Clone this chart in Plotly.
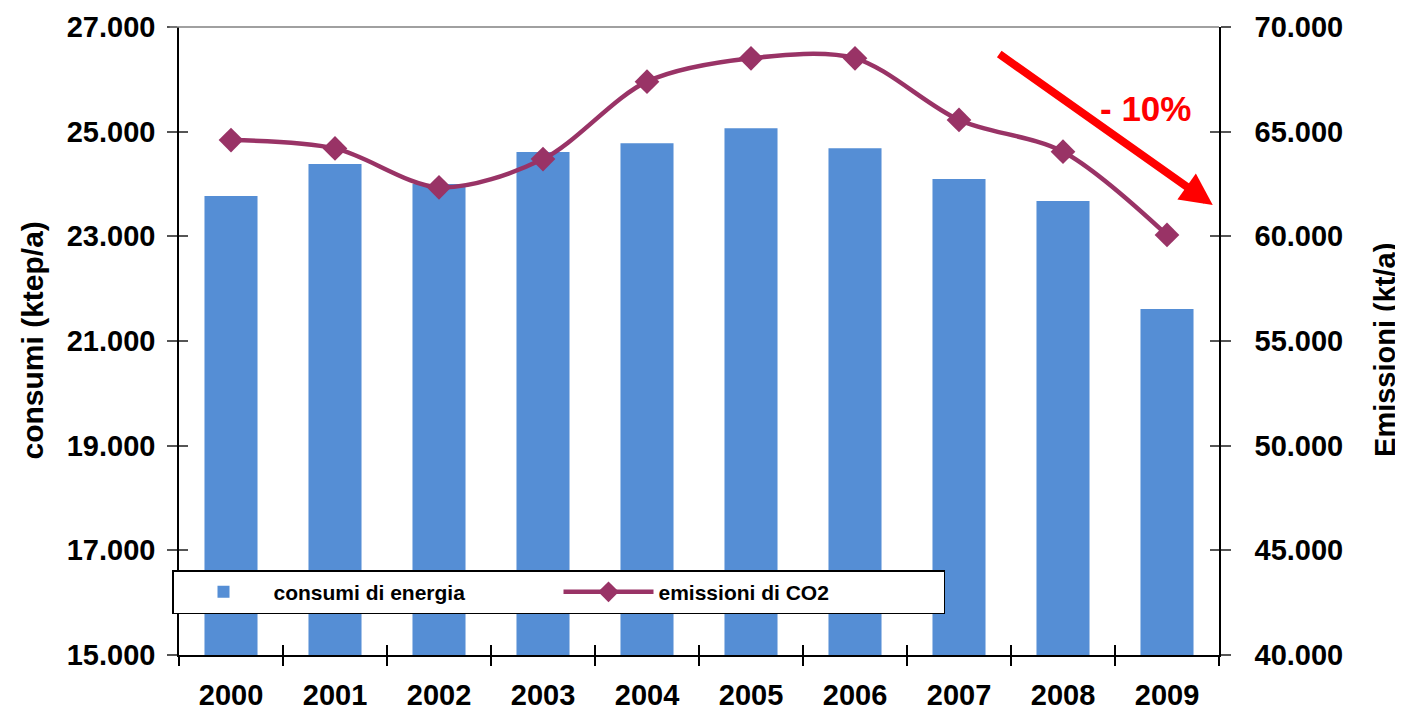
import plotly.graph_objects as go

years = [2000, 2001, 2002, 2003, 2004, 2005, 2006, 2007, 2008, 2009]
year_labels = [str(y) for y in years]
consumi = [23770, 24380, 24000, 24610, 24780, 25065, 24685, 24095, 23675, 21610]
emissioni = [64600, 64200, 62340, 63690, 67390, 68505, 68505, 65560, 64045, 60065]
left_ticks = [15000, 17000, 19000, 21000, 23000, 25000, 27000]
right_ticks = [40000, 45000, 50000, 55000, 60000, 65000, 70000]
boundaries = [y - 0.5 for y in years] + [years[-1] + 0.5]

FONT = "Liberation Sans, Arial, sans-serif"
BAR_COLOR = "#558ED5"
LINE_COLOR = "#993366"
TICK_COLOR = "#555555"
xrange = [1999.5, 2009.5]
yrange = [15000, 27000]
y2range = [40000, 70000]

fig = go.Figure()
fig.add_trace(go.Bar(
    x=years, y=consumi, name="consumi di energia",
    marker=dict(color=BAR_COLOR, line=dict(width=0)), width=0.51,
    xaxis="x", yaxis="y",
))
fig.add_trace(go.Scatter(
    x=years, y=emissioni, name="emissioni di CO2", mode="lines+markers",
    line=dict(color=LINE_COLOR, width=4.5, shape="spline", smoothing=0.9),
    marker=dict(symbol="diamond", size=19, color=LINE_COLOR),
    xaxis="x", yaxis="y2",
))
# helper traces so the tick-only overlay axes are drawn
fig.add_trace(go.Scatter(x=[None], y=[None], xaxis="x2", yaxis="y3",
                         showlegend=False, hoverinfo="skip"))
fig.add_trace(go.Scatter(x=[None], y=[None], xaxis="x3", yaxis="y4",
                         showlegend=False, hoverinfo="skip"))

tickfont = dict(family=FONT, size=29, color="black", weight="bold")
common_overlay = dict(showticklabels=False, showline=False, showgrid=False,
                      zeroline=False, automargin=False)

W, H = 1395, 704
fig.update_layout(
    width=W, height=H,
    margin=dict(l=171, r=184, t=19, b=57, autoexpand=False),
    paper_bgcolor="white", plot_bgcolor="white",
    separators=",.",
    xaxis=dict(
        range=xrange, tickvals=years, ticktext=year_labels,
        ticks="", ticklabelstandoff=13, automargin=False,
        showline=True, linecolor="black", linewidth=1.5,
        showgrid=False, zeroline=False, tickfont=tickfont,
    ),
    xaxis2=dict(
        range=xrange, overlaying="x", anchor="y3", side="bottom",
        tickvals=boundaries, ticks="outside", ticklen=10, tickwidth=1.5,
        tickcolor="black", **common_overlay,
    ),
    xaxis3=dict(
        range=xrange, overlaying="x", anchor="y4", side="bottom",
        tickvals=boundaries, ticks="inside", ticklen=10, tickwidth=1.5,
        tickcolor="black", **common_overlay,
    ),
    yaxis=dict(
        range=yrange, tickvals=left_ticks, tickformat=",d",
        ticks="outside", ticklen=10, tickwidth=1.5, tickcolor=TICK_COLOR,
        ticklabelstandoff=6, automargin=False,
        showline=True, linecolor="black", linewidth=1.5,
        showgrid=False, zeroline=False, tickfont=tickfont,
    ),
    yaxis3=dict(
        range=yrange, overlaying="y", anchor="x2", side="left",
        tickvals=left_ticks, ticks="inside", ticklen=9, tickwidth=1.5,
        tickcolor=TICK_COLOR, **common_overlay,
    ),
    yaxis2=dict(
        range=y2range, overlaying="y", anchor="x", side="right",
        tickvals=right_ticks, tickformat=",d",
        ticks="outside", ticklen=10, tickwidth=1.5, tickcolor=TICK_COLOR,
        ticklabelstandoff=18, automargin=False,
        showline=True, linecolor="black", linewidth=1.5,
        showgrid=False, zeroline=False, tickfont=tickfont,
    ),
    yaxis4=dict(
        range=y2range, overlaying="y", anchor="x3", side="right",
        tickvals=right_ticks, ticks="inside", ticklen=9, tickwidth=1.5,
        tickcolor=TICK_COLOR, **common_overlay,
    ),
    legend=dict(
        orientation="h", xref="container", x=164 / W, y=0.135,
        xanchor="left", yanchor="top",
        bgcolor="white", bordercolor="black", borderwidth=1.5,
        font=dict(family=FONT, size=21, color="black", weight="bold"),
        itemwidth=90, entrywidth=280, traceorder="normal",
    ),
    showlegend=True,
)

# axis titles
fig.add_annotation(
    xref="paper", yref="paper", x=-0.1418, y=0.5, xanchor="center", yanchor="middle",
    text="consumi (ktep/a)", textangle=-90, showarrow=False,
    font=dict(family=FONT, size=30, color="black", weight="bold"),
)
fig.add_annotation(
    xref="paper", yref="paper", x=1.1596, y=0.4857, xanchor="center", yanchor="middle",
    text="Emissioni (kt/a)", textangle=-90, showarrow=False,
    font=dict(family=FONT, size=29, color="black", weight="bold"),
)

# top border line of the plot area
fig.add_shape(type="line", xref="paper", yref="paper", x0=-0.009, x1=1.0,
              y0=1, y1=1, line=dict(color="#808080", width=1.5))

# red trend arrow and label
fig.add_annotation(
    xref="paper", yref="paper", x=0.994, y=0.7166,
    ax=-215, ay=-152, axref="pixel", ayref="pixel",
    text="", showarrow=True, arrowhead=2, arrowsize=0.8, arrowwidth=8,
    arrowcolor="#FF0000", standoff=0, startstandoff=0,
)
fig.add_annotation(
    xref="paper", yref="paper", x=0.929, y=0.871,
    xanchor="center", yanchor="middle",
    text="- 10%", showarrow=False,
    font=dict(family=FONT, size=35, color="#FF0000", weight="bold"),
)

fig.write_html("out.html")
